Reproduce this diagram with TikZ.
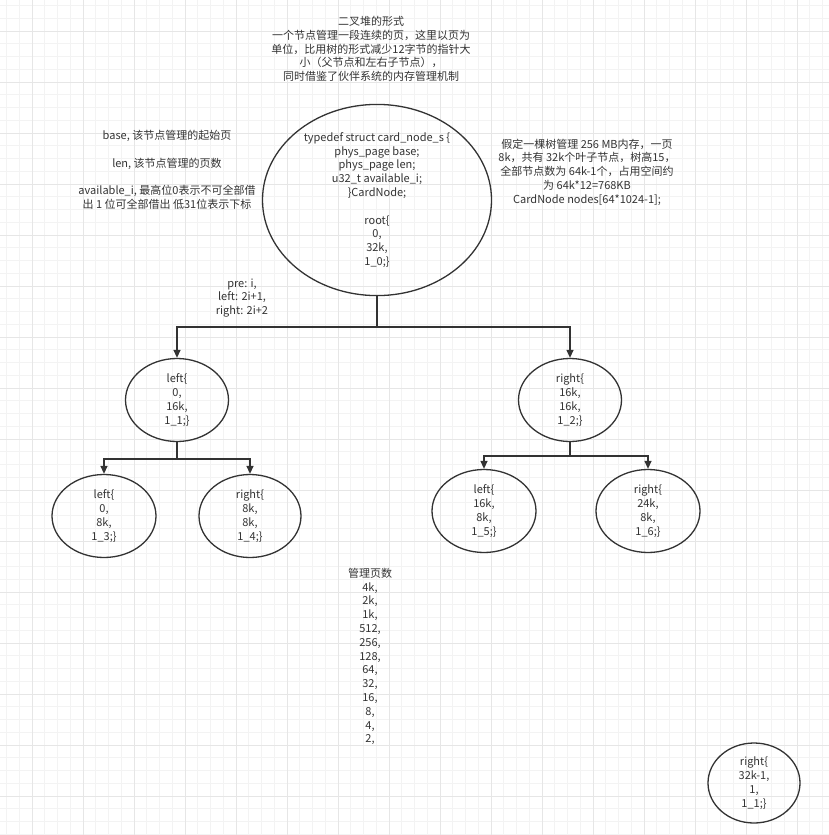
\documentclass[tikz,border=0pt]{standalone}
\usepackage{fontspec}
\setmainfont{Noto Sans CJK SC}
\usetikzlibrary{shapes.geometric,arrows.meta}

\definecolor{gridminor}{HTML}{F3F3F3}
\definecolor{gridmajor}{HTML}{E6E6E6}
\definecolor{inkdark}{HTML}{333333}

\tikzset{
  heapnode/.style={draw=inkdark, line width=1.3pt, ellipse, inner sep=0pt,
    align=center, text=inkdark, font=\fontsize{11}{13.8}\selectfont},
  note/.style={align=center, text=inkdark, font=\fontsize{11}{13.8}\selectfont},
  link/.style={draw=inkdark, line width=1.3pt},
  arrowlink/.style={link, -{Triangle[length=8pt,width=7pt]}}
}

\begin{document}
\begin{tikzpicture}[x=1pt,y=-1pt]
    \useasboundingbox (0,0) rectangle (829,835);

    % Background grid
    \foreach \k in {0,...,65} {
        \draw[gridminor, line width=0.8pt] ({6.5+12.75*\k},0) -- ({6.5+12.75*\k},835);
        \draw[gridminor, line width=0.8pt] (0,{5.5+12.75*\k}) -- (829,{5.5+12.75*\k});
    }
    \foreach \k in {0,...,16} {
        \draw[gridmajor, line width=0.8pt] ({32+51*\k},0) -- ({32+51*\k},835);
        \draw[gridmajor, line width=0.8pt] (0,{31+51*\k}) -- (829,{31+51*\k});
    }

    % Title
    \node[note] (title) at (371,49) {二叉堆的形式\\一个节点管理一段连续的页，这里以页为\\单位，比用树的形式减少12字节的指针大\\小（父节点和左右子节点），\\同时借鉴了伙伴系统的内存管理机制};

    % Field notes
    \node[note] (fields) at (167,170) {base, 该节点管理的起始页\\[13.8pt]len, 该节点管理的页数\\[13.8pt]available\_i, 最高位0表示不可全部借\\出 1 位可全部借出 低31位表示下标};

    % Memory estimate
    \node[note] (estimate) at (587,172) {假定一棵树管理 256 MB内存，一页\\8k，共有 32k个叶子节点，树高15，\\全部节点数为 64k-1个，占用空间约\\为 64k*12=768KB\\CardNode nodes[64*1024-1];};

    % Root
    \node[heapnode, minimum width=229pt, minimum height=185pt] (root) at (377,200)
        {typedef struct card\_node\_s \{\\phys\_page base;\\phys\_page len;\\u32\_t available\_i;\\\}CardNode;\\[13.8pt]root\{\\0,\\32k,\\1\_0;\}};

    % Index rule
    \node[note] (index) at (242,298) {pre: i,\\left: 2i+1,\\right: 2i+2};

    % Level 1
    \node[heapnode, minimum width=103pt, minimum height=83pt] (left1) at (177,400) {left\{\\0,\\16k,\\1\_1;\}};
    \node[heapnode, minimum width=103pt, minimum height=83pt] (right1) at (570,400) {right\{\\16k,\\16k,\\1\_2;\}};

    % Level 2
    \node[heapnode, minimum width=104pt, minimum height=83pt] (left3) at (104,516) {left\{\\0,\\8k,\\1\_3;\}};
    \node[heapnode, minimum width=102pt, minimum height=83pt] (right4) at (250,516) {right\{\\8k,\\8k,\\1\_4;\}};
    \node[heapnode, minimum width=104pt, minimum height=83pt] (left5) at (484,511) {left\{\\16k,\\8k,\\1\_5;\}};
    \node[heapnode, minimum width=104pt, minimum height=83pt] (right6) at (648,511) {right\{\\24k,\\8k,\\1\_6;\}};

    % Last leaf
    \node[heapnode, minimum width=92pt, minimum height=80pt] (leaf) at (754,783) {right\{\\32k-1,\\1,\\1\_1;\}};

    % Pages per level
    \node[note] (pages) at (370,656.5) {管理页数\\4k,\\2k,\\1k,\\512,\\256,\\128,\\64,\\32,\\16,\\8,\\4,\\2,};

    % Split points
    \coordinate (rootsplit) at (377,327);
    \coordinate (leftsplit) at (177,459);
    \coordinate (rightsplit) at (570,456);

    % Connectors
    \draw[link] (root.south) -- (rootsplit);
    \draw[arrowlink] (rootsplit) -| (left1.north);
    \draw[arrowlink] (rootsplit) -| (right1.north);
    \draw[link] (left1.south) -- (leftsplit);
    \draw[arrowlink] (leftsplit) -| (left3.north);
    \draw[arrowlink] (leftsplit) -| (right4.north);
    \draw[link] (right1.south) -- (rightsplit);
    \draw[arrowlink] (rightsplit) -| (left5.north);
    \draw[arrowlink] (rightsplit) -| (right6.north);

\end{tikzpicture}
\end{document}
